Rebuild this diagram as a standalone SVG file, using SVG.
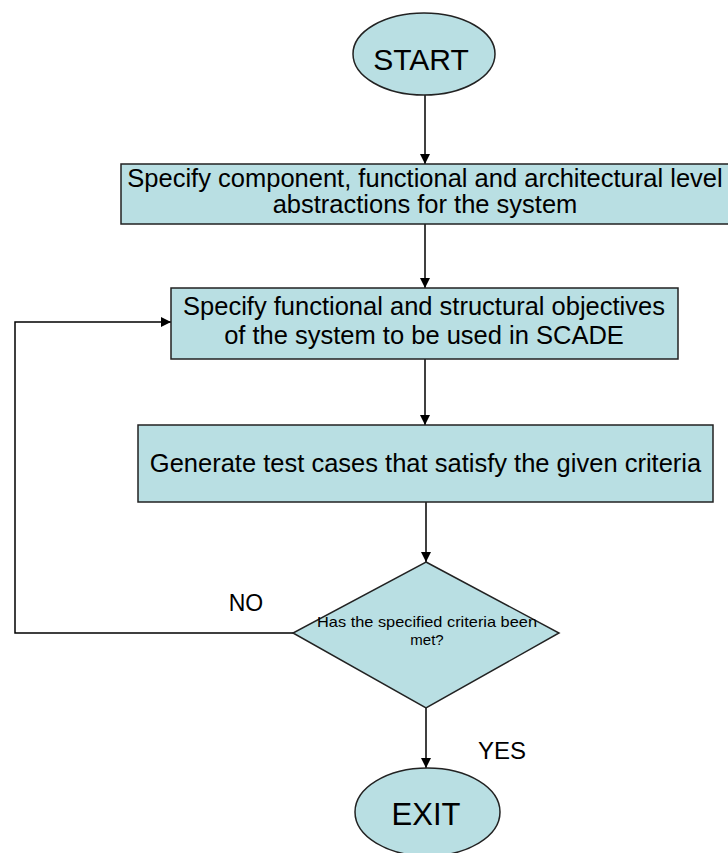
<svg xmlns="http://www.w3.org/2000/svg" width="728" height="853" viewBox="0 0 728 853">
  <defs>
    <marker id="arrow" viewBox="0 0 10 10" refX="10" refY="5" markerWidth="10" markerHeight="10" markerUnits="userSpaceOnUse" orient="auto">
      <path d="M0,0 L10,5 L0,10 Z" fill="#000"/>
    </marker>
    <style>
      .shape { fill: #b9dfe3; stroke: #222; stroke-width: 1.5; }
      .txt { font-family: "Liberation Sans", Arial, sans-serif; fill: #000; text-anchor: middle; }
      .conn { fill: none; stroke: #000; stroke-width: 1.5; }
    </style>
  </defs>
  <rect width="728" height="853" fill="#fff"/>
  <g id="connectors">
    <line class="conn" x1="425" y1="95" x2="425" y2="164" marker-end="url(#arrow)"/>
    <line class="conn" x1="425" y1="224" x2="425" y2="288" marker-end="url(#arrow)"/>
    <line class="conn" x1="425" y1="359" x2="425" y2="425" marker-end="url(#arrow)"/>
    <line class="conn" x1="426" y1="502" x2="426" y2="562" marker-end="url(#arrow)"/>
    <line class="conn" x1="426" y1="708" x2="426" y2="768" marker-end="url(#arrow)"/>
    <polyline class="conn" points="293,633 15,633 15,322 171,322" marker-end="url(#arrow)"/>
    <text class="txt" x="246" y="611" font-size="23">NO</text>
    <text class="txt" x="502" y="759" font-size="24">YES</text>
  </g>
  <g id="start">
    <ellipse class="shape" cx="424" cy="54" rx="71" ry="41"/>
    <text class="txt" x="421" y="70" font-size="30">START</text>
  </g>
  <g id="box1">
    <rect class="shape" x="121" y="164" width="614" height="60"/>
    <text class="txt" x="425" y="187" font-size="25.5">Specify component, functional and architectural level</text>
    <text class="txt" x="425" y="213" font-size="25.5">abstractions for the system</text>
  </g>
  <g id="box2">
    <rect class="shape" x="171" y="288" width="507" height="71"/>
    <text class="txt" x="424" y="315" font-size="25.5">Specify functional and structural objectives</text>
    <text class="txt" x="424" y="344" font-size="25.5">of the system to be used in SCADE</text>
  </g>
  <g id="box3">
    <rect class="shape" x="138" y="425" width="575" height="77"/>
    <text class="txt" x="425.5" y="472" font-size="25.5">Generate test cases that satisfy the given criteria</text>
  </g>
  <g id="decision">
    <polygon class="shape" points="426,562 559,633 426,708 293,633"/>
    <text class="txt" x="427" y="627" font-size="15" textLength="220" lengthAdjust="spacingAndGlyphs">Has the specified criteria been</text>
    <text class="txt" x="427" y="645" font-size="15">met?</text>
  </g>
  <g id="exit">
    <ellipse class="shape" cx="427.5" cy="812" rx="72.5" ry="44"/>
    <text class="txt" x="426" y="825" font-size="31">EXIT</text>
  </g>
</svg>
